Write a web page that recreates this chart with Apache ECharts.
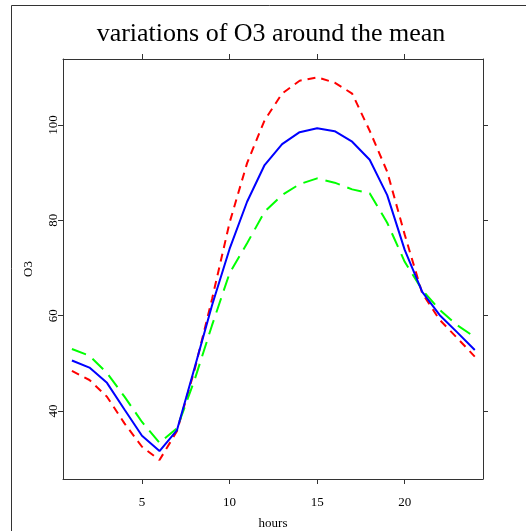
<!DOCTYPE html>
<html>
<head>
<meta charset="utf-8">
<script src="https://cdn.jsdelivr.net/npm/echarts@6/dist/echarts.min.js"></script>
<style>
html,body{margin:0;padding:0;background:#fff;}
#c{width:526px;height:531px;}
</style>
</head>
<body>
<div id="c"></div>
<script>
const hours = [1,2,3,4,5,6,7,8,9,10,11,12,13,14,15,16,17,18,19,20,21,22,23,24];
const meanO3 = [50.6,49.1,45.9,40.3,34.8,31.6,36.0,49.0,62.2,74.0,83.9,91.6,96.0,98.5,99.3,98.7,96.5,92.7,85.3,73.8,65.0,60.1,56.5,52.8];
const redO3 = [48.4,46.5,43.0,37.4,32.5,29.7,35.8,48.6,63.5,79.5,92.0,101.0,106.6,109.3,110.0,108.9,106.6,98.8,90.2,77.0,64.7,59.1,55.3,51.4];
const greenO3 = [53.0,51.6,48.0,43.0,37.7,33.3,36.4,46.5,58.0,68.9,75.2,81.8,85.3,87.6,88.8,87.9,86.5,85.7,79.5,71.3,65.4,61.2,58.0,55.5];
const xTicks = [5,10,15,20];
const yTicks = [40,60,80,100];
const titleText = 'variations of O3 around the mean';

const pairs = arr => hours.map((h,i)=>[h,arr[i]]);
const serif = '"Liberation Serif","DejaVu Serif",serif';
const axisColor = '#333';
const xr = {min:0.49, max:24.47};
const yr = {min:25.73, max:113.85};

const chart = echarts.init(document.getElementById('c'), null, {renderer:'canvas'});
chart.setOption({
  animation:false,
  backgroundColor:'#fff',
  title:{text:titleText,left:266,top:16,textAlign:'center',
    textStyle:{fontFamily:serif,fontSize:26,fontWeight:'normal',color:'#000'}},
  graphic:[{type:'rect',shape:{x:11.5,y:5.5,width:700,height:700},
    style:{fill:'none',stroke:'#333',lineWidth:1},silent:true}],
  grid:{left:63,top:59,right:43,bottom:52,containLabel:false,outerBoundsMode:'none'},
  xAxis:[
    {type:'value',position:'bottom',min:xr.min,max:xr.max,
     name:'hours',nameLocation:'middle',nameGap:38,
     nameTextStyle:{fontFamily:serif,fontSize:13,color:'#000'},
     axisLine:{show:true,onZero:false,lineStyle:{color:axisColor,width:1}},
     axisTick:{show:true,inside:false,length:5,customValues:xTicks,lineStyle:{color:axisColor}},
     axisLabel:{show:true,customValues:xTicks,margin:17,fontFamily:serif,fontSize:13,color:'#000'},
     splitLine:{show:false}},
    {type:'value',position:'top',min:xr.min,max:xr.max,
     axisLine:{show:true,onZero:false,lineStyle:{color:axisColor,width:1}},
     axisTick:{show:true,inside:false,length:5,customValues:xTicks,lineStyle:{color:axisColor}},
     axisLabel:{show:false},splitLine:{show:false}}
  ],
  yAxis:[
    {type:'value',position:'left',min:yr.min,max:yr.max,
     name:'O3',nameLocation:'middle',nameGap:28,nameRotate:90,
     nameTextStyle:{fontFamily:serif,fontSize:13,color:'#000'},
     axisLine:{show:true,onZero:false,lineStyle:{color:axisColor,width:1}},
     axisTick:{show:true,inside:false,length:5,customValues:yTicks,lineStyle:{color:axisColor}},
     axisLabel:{show:true,customValues:yTicks,rotate:90,margin:3,fontFamily:serif,fontSize:13,color:'#000'},
     splitLine:{show:false}},
    {type:'value',position:'right',min:yr.min,max:yr.max,
     axisLine:{show:true,onZero:false,lineStyle:{color:axisColor,width:1}},
     axisTick:{show:true,inside:false,length:5,customValues:yTicks,lineStyle:{color:axisColor}},
     axisLabel:{show:false},splitLine:{show:false}}
  ],
  series:[
    {name:'upper',type:'line',data:pairs(redO3),symbol:'none',
     lineStyle:{color:'#ff0000',width:2,type:[8,6]}},
    {name:'lower',type:'line',data:pairs(greenO3),symbol:'none',
     lineStyle:{color:'#00ff00',width:2,type:[15,8]}},
    {name:'mean',type:'line',data:pairs(meanO3),symbol:'none',
     lineStyle:{color:'#0000ff',width:2,type:'solid'}}
  ]
});
</script>
</body>
</html>
